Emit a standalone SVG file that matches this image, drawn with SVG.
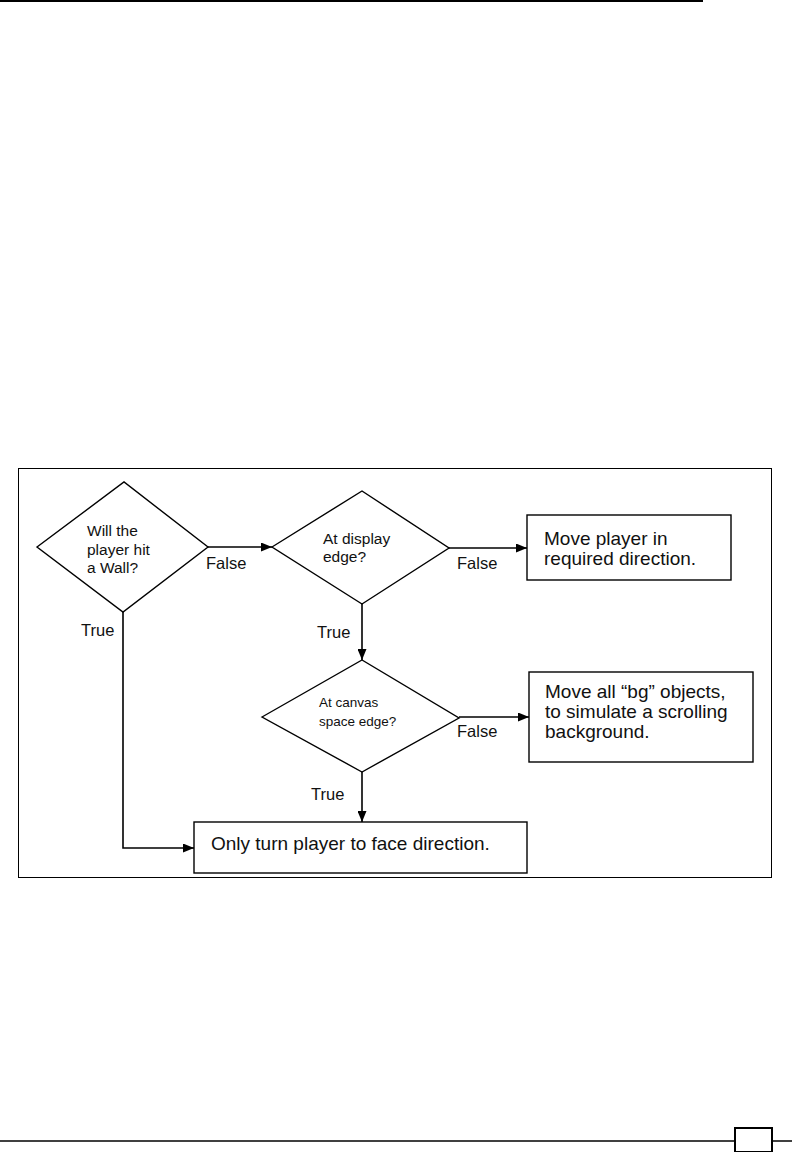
<svg xmlns="http://www.w3.org/2000/svg" width="792" height="1152" viewBox="0 0 792 1152">
<style>
.shape{fill:#fff;stroke:#000;stroke-width:1.4}
.conn{fill:none;stroke:#000;stroke-width:1.6}
.t{font-family:"Liberation Sans",Arial,sans-serif;fill:#111}
.d{font-size:15.5px}
.d3{font-size:13.5px}
.b{font-size:19px}
.lbl{font-family:"Liberation Sans",Arial,sans-serif;font-size:16.5px;fill:#111}
</style>
<defs>
<marker id="arr" viewBox="0 0 11 9" refX="11" refY="4.5" markerWidth="11" markerHeight="9" markerUnits="userSpaceOnUse" orient="auto">
<path d="M0,0 L11,4.5 L0,9 Z" fill="#000"/>
</marker>
</defs>
<rect width="792" height="1152" fill="#fff"/>
<line x1="0" y1="1" x2="703" y2="1" stroke="#000" stroke-width="2"/>
<line x1="0" y1="1141" x2="792" y2="1141" stroke="#000" stroke-width="1.5"/>
<rect x="735" y="1128" width="37" height="24" fill="#fff" stroke="#000" stroke-width="2"/>
<rect id="frame" x="18.5" y="468.5" width="753" height="409" fill="none" stroke="#000" stroke-width="1"/>
<g id="connectors">
<path class="conn" d="M208,547 H272" marker-end="url(#arr)"/>
<path class="conn" d="M449,548 H527" marker-end="url(#arr)"/>
<path class="conn" d="M362,604 V660" marker-end="url(#arr)"/>
<path class="conn" d="M459,717 H529" marker-end="url(#arr)"/>
<path class="conn" d="M362,772 V822" marker-end="url(#arr)"/>
<path class="conn" d="M123,612 V848 H194" marker-end="url(#arr)"/>
<text class="lbl" x="206" y="569">False</text>
<text class="lbl" x="457" y="569">False</text>
<text class="lbl" x="81" y="636">True</text>
<text class="lbl" x="317" y="638">True</text>
<text class="lbl" x="457" y="737">False</text>
<text class="lbl" x="311" y="800">True</text>
</g>
<g id="d1">
<polygon class="shape" points="37,547 124,482 208,547 123,612"/>
<text class="t d" x="87" y="536">Will the</text>
<text class="t d" x="87" y="554.5">player hit</text>
<text class="t d" x="87" y="573">a Wall?</text>
</g>
<g id="d2">
<polygon class="shape" points="272,547 362,491 449,548 362,604"/>
<text class="t d" x="323" y="544">At display</text>
<text class="t d" x="323" y="562">edge?</text>
</g>
<g id="d3">
<polygon class="shape" points="262,717 362,660 459,718 362,772"/>
<text class="t d3" x="319" y="707">At canvas</text>
<text class="t d3" x="319" y="726">space edge?</text>
</g>
<g id="box1">
<rect class="shape" x="527" y="515" width="204" height="65"/>
<text class="t b" x="544" y="545">Move player in</text>
<text class="t b" x="544" y="565">required direction.</text>
</g>
<g id="box2">
<rect class="shape" x="529" y="672" width="224" height="90"/>
<text class="t b" x="545" y="698">Move all “bg” objects,</text>
<text class="t b" x="545" y="718">to simulate a scrolling</text>
<text class="t b" x="545" y="738">background.</text>
</g>
<g id="box3">
<rect class="shape" x="194" y="822" width="333" height="51"/>
<text class="t b" x="211" y="850">Only turn player to face direction.</text>
</g>
</svg>
